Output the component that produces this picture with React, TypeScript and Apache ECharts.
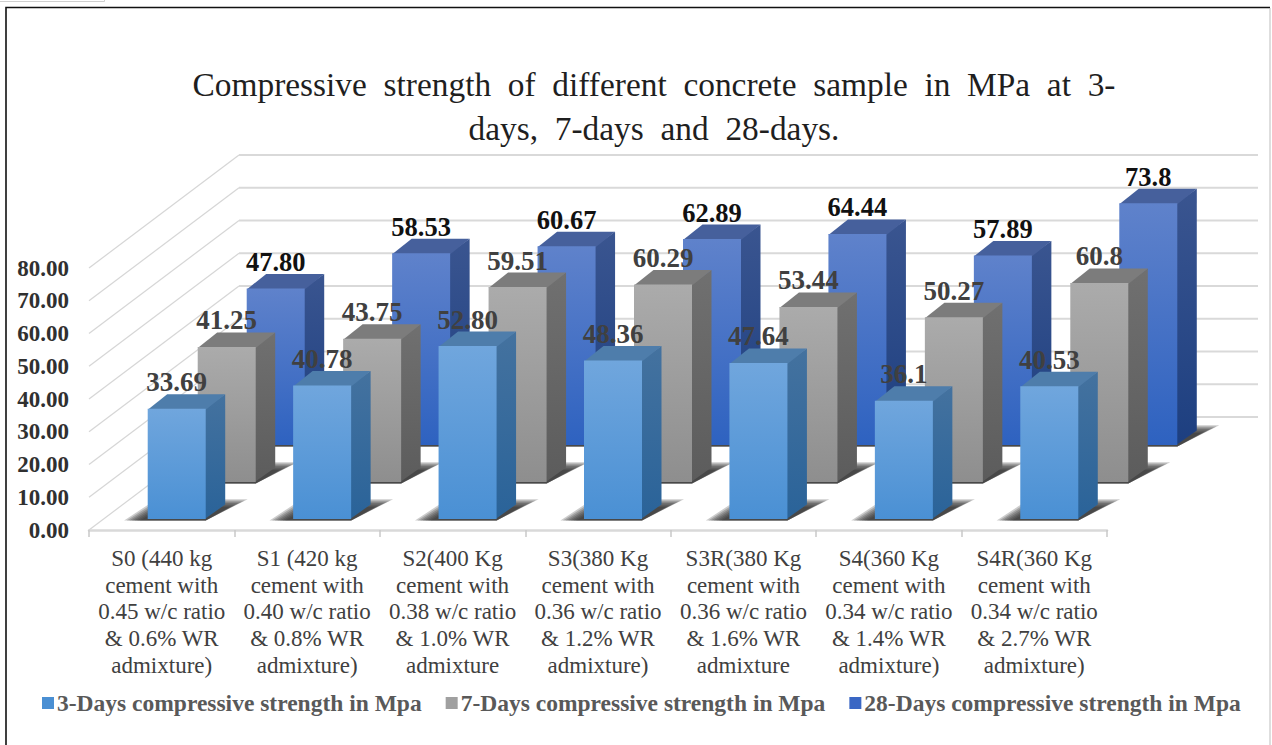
import React, { useEffect, useRef } from "react";
import * as echarts from "echarts";

const categories = [
  "S0 (440 kg\ncement with\n0.45 w/c ratio\n& 0.6% WR\nadmixture)",
  "S1 (420 kg\ncement with\n0.40 w/c ratio\n& 0.8% WR\nadmixture)",
  "S2(400 Kg\ncement with\n0.38 w/c ratio\n& 1.0% WR\nadmixture",
  "S3(380 Kg\ncement with\n0.36 w/c ratio\n& 1.2% WR\nadmixture)",
  "S3R(380 Kg\ncement with\n0.36 w/c ratio\n& 1.6% WR\nadmixture",
  "S4(360 Kg\ncement with\n0.34 w/c ratio\n& 1.4% WR\nadmixture)",
  "S4R(360 Kg\ncement with\n0.34 w/c ratio\n& 2.7% WR\nadmixture)",
];
const days3 = [33.69, 40.78, 52.8, 48.36, 47.64, 36.1, 40.53];
const days7 = [41.25, 43.75, 59.51, 60.29, 53.44, 50.27, 60.8];
const days28 = [47.8, 58.53, 60.67, 62.89, 64.44, 57.89, 73.8];
const labels3 = ["33.69", "40.78", "52.80", "48.36", "47.64", "36.1", "40.53"];
const labels7 = ["41.25", "43.75", "59.51", "60.29", "53.44", "50.27", "60.8"];
const labels28 = ["47.80", "58.53", "60.67", "62.89", "64.44", "57.89", "73.8"];
const yTicks = [0, 10, 20, 30, 40, 50, 60, 70, 80];
const names = [
  "3-Days compressive strength in Mpa",
  "7-Days compressive strength in Mpa",
  "28-Days compressive strength in Mpa",
];
const titleText =
  "Compressive  strength  of  different  concrete  sample  in  MPa  at  3-\ndays,  7-days  and  28-days.";

const SERIF = "'Liberation Serif', 'Times New Roman', serif";
const BAR_W = 58;
const SIDE_X = 19.5;
const SIDE_Y = 14.5;
const WALL_X = 150;
const WALL_Y = 113;
const SHADOW_LAYERS = [0, 1, 2, 3, 4, 5, 6];

const vGrad = (a: string, b: string) =>
  new echarts.graphic.LinearGradient(0, 0, 0, 1, [
    { offset: 0, color: a },
    { offset: 1, color: b },
  ]);

const wallRender = (_: any, api: any) => {
  const band = api.size([1, 0])[0];
  const [cx, y] = api.coord([0, api.value(0)]);
  const x0 = cx - band / 2;
  const bx = x0 + WALL_X;
  const by = y - WALL_Y;
  const children: any[] = [
    {
      type: "line",
      shape: { x1: x0, y1: y, x2: bx, y2: by },
      style: { stroke: "#d6d6d6", lineWidth: 1.2 },
    },
    {
      type: "line",
      shape: { x1: bx, y1: by, x2: x0 + band * 7 + WALL_X + 1, y2: by },
      style: { stroke: "#d9d9d9", lineWidth: 1.8 },
    },
  ];
  return { type: "group", children };
};

const barRender =
  (
    dx: number,
    dy: number,
    labels: string[],
    textColor: string,
    fontSize: number,
    front: [string, string],
    side: [string, string],
    topColor: string,
    base: number,
  ) =>
  (params: any, api: any) => {
    const i = api.value(0);
    const [cx, yTop0] = api.coord([i, api.value(1)]);
    const [, y0] = api.coord([i, 0]);
    const x0 = cx - BAR_W / 2 + dx;
    const x1 = x0 + BAR_W;
    const yb = y0 + dy;
    const yt = yTop0 + dy;
    const shadows = SHADOW_LAYERS.map((k) => ({
      type: "polygon",
      z2: base,
      shape: {
        points: [
          [x0 - 8 - k * 2.6, yb + 1.5],
          [x1, yb + 1.5],
          [x1 + 24 + k * 3, yb - 12 - k * 1.3],
          [x0 + 16 - k * 1.2, yb - 12 - k * 1.3],
        ],
      },
      style: { fill: "rgba(40,40,40,0.24)" },
    }));
    return {
      type: "group",
      children: [
        ...shadows,
        {
          type: "polygon",
          z2: base + 1,
          shape: {
            points: [
              [x1 - 1, yt],
              [x1 + SIDE_X, yt - SIDE_Y],
              [x1 + SIDE_X, yb - SIDE_Y],
              [x1 - 1, yb],
            ],
          },
          style: { fill: vGrad(side[0], side[1]) },
        },
        {
          type: "polygon",
          z2: base + 2,
          shape: {
            points: [
              [x0, yt + 1],
              [x0 + SIDE_X, yt - SIDE_Y],
              [x1 + SIDE_X, yt - SIDE_Y],
              [x1, yt + 1],
            ],
          },
          style: { fill: topColor },
        },
        {
          type: "polygon",
          z2: base + 3,
          shape: { points: [[x0, yt], [x1, yt], [x1, yb], [x0, yb]] },
          style: { fill: vGrad(front[0], front[1]) },
        },
        {
          type: "text",
          z2: 50,
          style: {
            x: (x0 + x1) / 2,
            y: yt - SIDE_Y - 12,
            text: labels[params.dataIndex],
            fill: textColor,
            font: `bold ${fontSize}px ${SERIF}`,
            align: "center",
            verticalAlign: "middle",
          },
        },
      ],
    };
  };

export default function App() {
  const ref = useRef<HTMLDivElement>(null);
  useEffect(() => {
    const chart = echarts.init(ref.current!, undefined, { renderer: "svg" });
    const toData = (vals: number[]) => vals.map((v, i) => [i, v]);
    chart.setOption({
      animation: false,
      backgroundColor: "#ffffff",
      title: {
        text: titleText,
        left: 649,
        top: 57,
        textAlign: "center",
        textStyle: {
          fontFamily: SERIF,
          fontSize: 33.4,
          fontWeight: "normal",
          color: "#1f1f1f",
          lineHeight: 44,
        },
      },
      legend: {
        left: 42,
        top: 691,
        padding: 0,
        itemWidth: 12,
        itemHeight: 12,
        itemGap: 24,
        icon: "rect",
        data: names,
        textStyle: {
          fontFamily: SERIF,
          fontSize: 23.5,
          fontWeight: "bold",
          color: "#595959",
          padding: [0, 0, 0, -2],
        },
      },
      grid: { left: 89, width: 1018, top: 268, height: 262 },
      xAxis: {
        type: "category",
        data: categories,
        boundaryGap: true,
        axisLine: { lineStyle: { color: "#d9d9d9", width: 2.5 } },
        axisTick: { show: true, length: 7, lineStyle: { color: "#c8c8c8", width: 1.5 } },
        axisLabel: {
          interval: 0,
          margin: 15,
          fontFamily: SERIF,
          fontSize: 23,
          lineHeight: 26.7,
          color: "#404040",
        },
      },
      yAxis: {
        type: "value",
        min: 0,
        max: 80,
        interval: 10,
        axisLine: { show: false },
        axisTick: { show: false },
        splitLine: { show: false },
        axisLabel: {
          margin: 20,
          fontFamily: SERIF,
          fontSize: 23,
          fontWeight: "bold",
          color: "#303030",
          formatter: (v: number) => v.toFixed(2),
        },
      },
      graphic: [
        {
          type: "polyline",
          silent: true,
          shape: { points: [[6, 745], [6, 7.5], [1270, 7.5]] },
          style: { stroke: "#111111", lineWidth: 1.6, fill: "none" },
        },
        {
          type: "line",
          silent: true,
          shape: { x1: 1270, y1: 8, x2: 1270, y2: 745 },
          style: { stroke: "#bdbdbd", lineWidth: 1 },
        },
        {
          type: "polyline",
          silent: true,
          shape: { points: [[0, 1.5], [104.5, 1.5], [104.5, 0]] },
          style: { stroke: "#cfcfcf", lineWidth: 1, fill: "none" },
        },
      ],
      series: [
        {
          type: "custom",
          silent: true,
          renderItem: wallRender,
          data: yTicks.map((v) => [v]),
          encode: { y: 0 },
          z: 1,
        },
        {
          type: "custom",
          name: names[2],
          itemStyle: { color: "#3a67c4" },
          renderItem: barRender(114, -85, labels28, "#111111", 26.5,
            ["#5f82cb", "#2e62c0"], ["#3a5590", "#1d3f80"], "#46609c", 10),
          data: toData(days28),
          encode: { x: 0, y: 1 },
          z: 2,
        },
        {
          type: "custom",
          name: names[1],
          itemStyle: { color: "#a0a0a0" },
          renderItem: barRender(65, -48, labels7, "#404040", 27,
            ["#ababab", "#8e8e8e"], ["#707070", "#5c5c5c"], "#7c7c7c", 20),
          data: toData(days7),
          encode: { x: 0, y: 1 },
          z: 2,
        },
        {
          type: "custom",
          name: names[0],
          itemStyle: { color: "#4a8fd3" },
          renderItem: barRender(15, -11, labels3, "#404040", 27,
            ["#70a6dd", "#4a90d4"], ["#44729f", "#2a6399"], "#4e7dab", 30),
          data: toData(days3),
          encode: { x: 0, y: 1 },
          z: 2,
        },
      ],
    });
    return () => chart.dispose();
  }, []);
  return (
    <div
      ref={ref}
      style={{ position: "fixed", left: 0, top: 0, width: 1272, height: 745 }}
    />
  );
}
